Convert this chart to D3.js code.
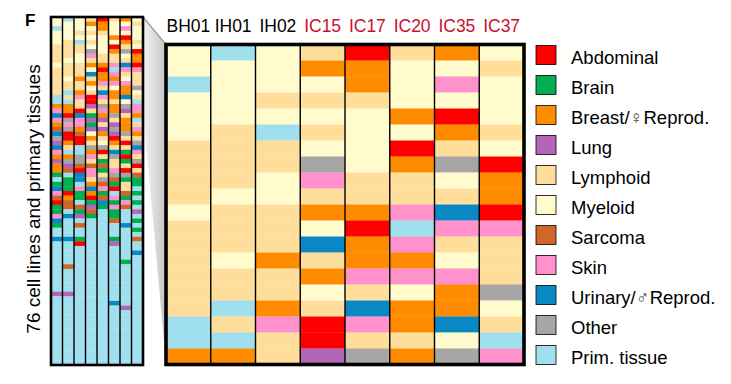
<!DOCTYPE html>
<html>
<head>
<meta charset="utf-8">
<script src="https://cdn.jsdelivr.net/npm/d3@7/dist/d3.min.js"></script>
<style>
  body { margin: 0; background: #fff; }
  svg { display: block; font-family: "Liberation Sans", Arial, sans-serif; }
</style>
</head>
<body>
<svg id="chart" width="731" height="384"></svg>
<script>
// sample columns
const samples = ["BH01", "IH01", "IH02", "IC15", "IC17", "IC20", "IC35", "IC37"];
const sampleColor = ["#000", "#000", "#000", "#C8102E", "#C8102E", "#C8102E", "#C8102E", "#C8102E"];

// tissue categories (legend order)
const catCodes = ["Ab", "Bn", "Br", "Lu", "Ly", "My", "Sa", "Sk", "Ur", "Ot", "PT"];
const catLabels = [["Abdominal"], ["Brain"], ["Breast/", "\u2640", "Reprod."], ["Lung"], ["Lymphoid"], ["Myeloid"],
                   ["Sarcoma"], ["Skin"], ["Urinary/", "\u2642", "Reprod."], ["Other"], ["Prim. tissue"]];
const catColors = ["#FF0000", "#00B050", "#FF8C00", "#B565B8", "#FFDE9C", "#FFFBCC",
                   "#D2652A", "#FF91CB", "#0A88C6", "#A6A6A6", "#A0E0EE"];

// tissue of each of the 76 ranked cell lines, per sample (rows top to bottom)
const rowsTop = 20; // rows shown in the zoomed panel

const BH01 = ["My","My","PT","My","My","My","Ly","Ly","Ly","Ly","My","Ly","Ly","Ly","Ly","Ly","Ly","PT","PT","Br",
  "Sk","Ur","Sk","Br","Sa","Ur","Ot","Lu","Ur","Sk","Br","Lu","Br","Br","Bn","PT","Bn","Ur","Sk","Sa",
  "Ab","Bn","Bn","Sk","Ur","Bn","PT","PT","Ur","PT","PT","PT","PT","PT","PT","PT","PT","PT","PT","PT",
  "Lu","PT","PT","PT","PT","PT","PT","PT","PT","PT","PT","PT","PT","PT","PT","PT"];
const IH01 = ["PT","My","My","My","My","Ly","Ly","Ly","Ly","My","Ly","Ly","Ly","My","Ly","Ly","PT","Ly","PT","Br",
  "Br","Ab","Ot","Sk","Ot","Ab","Ab","Br","Ly","PT","Br","Ot","Lu","Sa","PT","Bn","Bn","Bn","Ab","Br",
  "Sa","Sa","PT","Ur","PT","PT","PT","PT","Ur","PT","PT","PT","PT","PT","Sa","PT","PT","PT","PT","PT",
  "Lu","PT","PT","PT","PT","PT","PT","PT","PT","PT","PT","PT","PT","PT","PT","PT"];
const IH02 = ["My","My","My","Ly","My","PT","Ly","Ly","My","My","Ly","Ly","Ly","Br","Ly","Ly","Br","Sk","Ly","Ly",
  "Ab","Ur","Sk","Sk","Br","Sa","Ab","Ab","PT","PT","Ot","Ot","Sa","Ab","Ur","Ur","PT","Sk","Bn","Bn",
  "PT","Sa","Bn","Lu","PT","Sa","PT","PT","Bn","Ab","PT","PT","PT","PT","PT","PT","PT","PT","PT","PT",
  "PT","PT","PT","PT","PT","PT","PT","PT","PT","PT","PT","PT","PT","PT","PT","PT"];
const IC15 = ["Ly","Br","My","Ly","My","Ly","My","Ot","Sk","Ly","Br","My","Ur","Ly","Br","My","Ly","Ab","Ab","Lu",
  "Ly","Bn","Lu","Bn","Lu","My","Br","Ly","Ot","Br","Sk","Ly","Sa","Sk","Sk","Ly","Br","Ur","Br","Ab",
  "Bn","Lu","Sa","Bn","PT","PT","PT","PT","PT","PT","PT","PT","PT","PT","PT","PT","PT","PT","PT","PT",
  "PT","PT","PT","PT","PT","PT","PT","PT","PT","PT","PT","PT","PT","PT","PT","PT"];
const IC17 = ["Ab","Br","Br","Ly","My","My","My","My","Ly","Ly","Br","Ab","Br","Br","Sk","Ly","Ur","Sk","Ly","Ot",
  "Sk","Br","Lu","Ly","Lu","Br","Ly","My","Ot","Ab","Ly","Bn","Sa","Bn","Ly","Ot","Sa","Sk","Bn","Sa",
  "Ur","Bn","PT","PT","PT","PT","PT","PT","PT","PT","PT","PT","PT","PT","PT","PT","PT","PT","PT","PT",
  "PT","PT","PT","PT","PT","PT","PT","PT","PT","PT","PT","PT","PT","PT","PT","PT"];
const IC20 = ["Ly","My","My","My","Br","My","Ab","Br","Ly","Ly","Sk","PT","Sk","Br","Sk","My","Br","Br","Ly","Br",
  "Br","Ot","Ly","Lu","Ot","Lu","Ab","Br","Ly","Ur","Ot","Ly","Ly","Sk","Ot","Sa","Bn","Ab","PT","Sk",
  "Bn","Sk","Bn","Bn","Sa","PT","PT","PT","Bn","Lu","PT","PT","PT","PT","PT","PT","PT","PT","PT","PT",
  "PT","PT","Ur","PT","PT","PT","PT","PT","PT","PT","PT","PT","PT","PT","PT","PT"];
const IC35 = ["Br","My","Sk","My","Ab","Br","Ly","Ot","My","Ly","Ur","Sk","Ly","My","Sk","Br","Br","Ur","My","Ot",
  "Lu","Ly","Br","Br","Br","Ot","Ly","Ab","Ly","Bn","Ab","Bn","Ly","Ab","Ot","Bn","Ly","Ly","Sa","Bn",
  "Sk","Sa","PT","PT","PT","Ur","PT","PT","PT","PT","PT","PT","PT","Bn","PT","PT","PT","PT","PT","PT",
  "PT","PT","PT","Lu","PT","PT","PT","PT","PT","PT","PT","PT","PT","PT","PT","PT"];
const IC37 = ["My","Ly","My","My","My","Ly","My","Ab","Br","Br","Ab","Sk","Ly","Ly","Ly","Ot","My","Ly","PT","Sk",
  "Sk","Br","PT","Ly","Sk","Br","Ly","Ot","Ur","Sk","Ly","Ot","Ab","Ly","Sa","Bn","Bn","PT","Bn","PT",
  "Bn","PT","Lu","PT","Bn","PT","Bn","PT","Sa","PT","PT","Ur","PT","PT","PT","PT","PT","PT","PT","PT",
  "PT","PT","PT","PT","PT","PT","PT","PT","PT","PT","PT","PT","PT","PT","PT","PT"];

const columns = [BH01, IH01, IH02, IC15, IC17, IC20, IC35, IC37];
const nRows = BH01.length;

const svg = d3.select("#chart");
const color = d3.scaleOrdinal().domain(catCodes).range(catColors);

// mini overview and zoomed panel geometry
const mini = {x0: 51, x1: 143, y0: 17, y1: 365};
const main = {x0: 166, x1: 524, y0: 44.5, y1: 364.5};

const miniX = d3.scaleBand().domain(samples).range([mini.x0, mini.x1]);
const miniY = d3.scaleBand().domain(d3.range(nRows)).range([mini.y0, mini.y1]);
const mainX = d3.scaleBand().domain(samples).range([main.x0, main.x1]);
const mainY = d3.scaleBand().domain(d3.range(rowsTop)).range([main.y0, main.y1]);

// shaded wedge linking the top rows of the overview to the zoomed panel
const grad = svg.append("defs").append("linearGradient")
  .attr("id", "wedge").attr("x1", 0).attr("y1", 0).attr("x2", 1).attr("y2", 0);
grad.append("stop").attr("offset", "0%").attr("stop-color", "#f4f4f4");
grad.append("stop").attr("offset", "100%").attr("stop-color", "#c4c4c4");
const yCut = miniY(rowsTop - 1) + miniY.bandwidth();
svg.append("path")
  .attr("d", `M${mini.x1},${mini.y0} L${main.x0},${main.y0} L${main.x0},${main.y1} L${mini.x1},${yCut} Z`)
  .attr("fill", "url(#wedge)");
svg.append("line")
  .attr("x1", mini.x1).attr("y1", mini.y0).attr("x2", main.x0).attr("y2", main.y0)
  .attr("stroke", "#999").attr("stroke-width", 1.2);

const cellsFor = (n) => columns.flatMap((col, c) =>
  col.slice(0, n).map((v, r) => ({s: samples[c], r, v})));

// overview
const gMini = svg.append("g");
gMini.selectAll("rect.cell").data(cellsFor(nRows)).enter().append("rect")
  .attr("class", "cell")
  .attr("x", d => miniX(d.s)).attr("y", d => miniY(d.r))
  .attr("width", miniX.bandwidth()).attr("height", miniY.bandwidth() + 0.3)
  .attr("fill", d => color(d.v));
gMini.selectAll("line.sep").data(samples.slice(1)).enter().append("line")
  .attr("class", "sep")
  .attr("x1", d => miniX(d)).attr("x2", d => miniX(d))
  .attr("y1", mini.y0).attr("y2", mini.y1)
  .attr("stroke", "#000").attr("stroke-width", 1.4);
gMini.append("rect")
  .attr("x", mini.x0).attr("y", mini.y0)
  .attr("width", mini.x1 - mini.x0).attr("height", mini.y1 - mini.y0)
  .attr("fill", "none").attr("stroke", "#000").attr("stroke-width", 2.6);

// zoomed panel
const gMain = svg.append("g");
gMain.selectAll("rect.cell").data(cellsFor(rowsTop)).enter().append("rect")
  .attr("class", "cell")
  .attr("x", d => mainX(d.s)).attr("y", d => mainY(d.r))
  .attr("width", mainX.bandwidth()).attr("height", mainY.bandwidth() + 0.3)
  .attr("fill", d => color(d.v));
gMain.selectAll("line.sep").data(samples.slice(1)).enter().append("line")
  .attr("class", "sep")
  .attr("x1", d => mainX(d)).attr("x2", d => mainX(d))
  .attr("y1", main.y0).attr("y2", main.y1)
  .attr("stroke", "#000").attr("stroke-width", 1.4);
gMain.append("rect")
  .attr("x", main.x0).attr("y", main.y0)
  .attr("width", main.x1 - main.x0).attr("height", main.y1 - main.y0)
  .attr("fill", "none").attr("stroke", "#000").attr("stroke-width", 3.6);

// column headers
svg.append("g").selectAll("text").data(samples).enter().append("text")
  .attr("x", d => mainX(d) + mainX.bandwidth() / 2).attr("y", 31.5)
  .attr("text-anchor", "middle").attr("font-size", "17.5px")
  .attr("fill", (d, i) => sampleColor[i])
  .text(d => d);

// panel letter and axis title
svg.append("text").attr("x", 25).attr("y", 26)
  .attr("font-size", "17px").attr("font-weight", "bold").text("F");
svg.append("text")
  .attr("transform", "translate(40,199) rotate(-90)")
  .attr("text-anchor", "middle").attr("font-size", "19px")
  .text("76 cell lines and primary tissues");

// legend
const legend = svg.append("g").selectAll("g").data(catCodes).enter().append("g")
  .attr("transform", (d, i) => `translate(536,${45.5 + i * 30})`);
legend.append("rect")
  .attr("width", 20).attr("height", 19)
  .attr("fill", d => color(d)).attr("stroke", "#000").attr("stroke-width", 0.8);
legend.append("text")
  .attr("x", 35).attr("y", 18)
  .attr("font-size", "18.5px")
  .each(function(d, i) {
    const t = d3.select(this);
    catLabels[i].forEach((part, k) => {
      const sp = t.append("tspan").text(part);
      if (k === 1) sp.attr("fill", "#444");
    });
  });
</script>
</body>
</html>
